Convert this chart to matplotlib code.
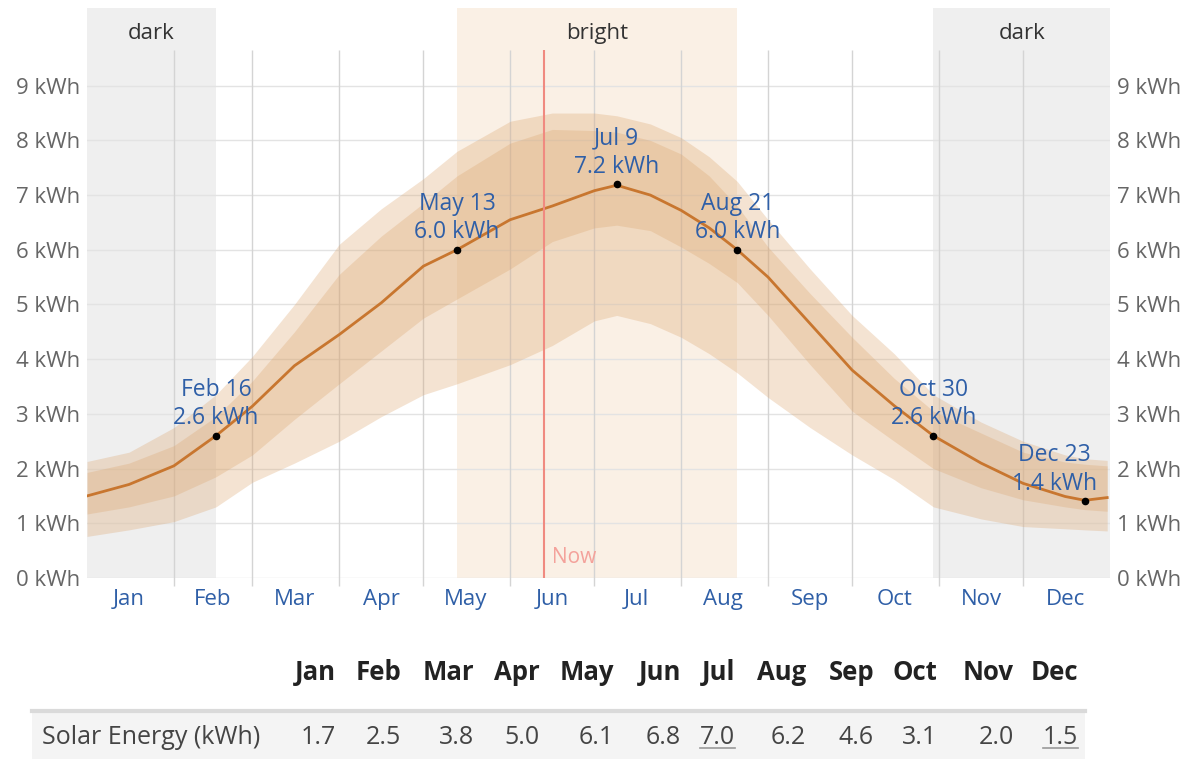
import matplotlib
matplotlib.use("Agg")
import matplotlib.pyplot as plt
from matplotlib.patches import Rectangle
from matplotlib.lines import Line2D

plt.rcParams["font.family"] = ["Open Sans", "DejaVu Sans"]

# daily solar energy (kWh) at these days of the year
days = [0, 15, 31, 46, 59, 74, 90, 105, 120, 132, 151, 166, 181, 189, 201,
        212, 222, 232, 243, 258, 273, 288, 302, 319, 334, 349, 356, 364]
median = [1.50, 1.71, 2.05, 2.60, 3.14, 3.88, 4.45, 5.03, 5.70, 6.00, 6.55,
          6.80, 7.08, 7.18, 7.00, 6.72, 6.40, 6.00, 5.50, 4.65, 3.80, 3.15,
          2.60, 2.10, 1.73, 1.49, 1.42, 1.47]
p90 = [2.13, 2.30, 2.75, 3.35, 4.05, 5.00, 6.10, 6.75, 7.30, 7.80, 8.35,
       8.50, 8.50, 8.45, 8.30, 8.05, 7.70, 7.25, 6.55, 5.65, 4.80, 4.10,
       3.35, 2.85, 2.50, 2.25, 2.18, 2.15]
p75 = [1.93, 2.10, 2.42, 2.95, 3.60, 4.50, 5.55, 6.25, 6.85, 7.35, 7.95,
       8.20, 8.18, 8.15, 8.00, 7.75, 7.35, 6.80, 6.05, 5.20, 4.40, 3.65,
       3.05, 2.65, 2.30, 2.12, 2.08, 2.05]
p25 = [1.17, 1.30, 1.50, 1.85, 2.25, 2.90, 3.55, 4.15, 4.75, 5.10, 5.65,
       6.15, 6.40, 6.45, 6.35, 6.05, 5.75, 5.40, 4.80, 3.90, 3.05, 2.50,
       2.00, 1.65, 1.43, 1.30, 1.25, 1.22]
p10 = [0.76, 0.88, 1.03, 1.30, 1.75, 2.10, 2.50, 2.95, 3.35, 3.55, 3.90,
       4.25, 4.70, 4.80, 4.65, 4.40, 4.10, 3.75, 3.30, 2.75, 2.25, 1.80,
       1.30, 1.08, 0.94, 0.90, 0.88, 0.86]

# highlighted days
ann_days = [46, 132, 189, 232, 302, 356]
ann_dates = ["Feb 16", "May 13", "Jul 9", "Aug 21", "Oct 30", "Dec 23"]
ann_vals = [2.6, 6.0, 7.2, 6.0, 2.6, 1.4]

# seasons
dark_periods = [(0, 46), (302, 365)]
bright_period = (132, 232)
now_day = 163

months = ["Jan", "Feb", "Mar", "Apr", "May", "Jun",
          "Jul", "Aug", "Sep", "Oct", "Nov", "Dec"]
month_starts = [31, 59, 90, 120, 151, 181, 212, 243, 273, 304, 334]
month_mids = [15, 45, 74, 105, 135, 166, 196, 227, 258, 288, 319, 349]
monthly_avg = [1.7, 2.5, 3.8, 5.0, 6.1, 6.8, 7.0, 6.2, 4.6, 3.1, 2.0, 1.5]

W, H = 1198, 759
BLUE = "#2f5fa7"
GREY_TXT = "#666666"

fig = plt.figure(figsize=(W / 100, H / 100), dpi=100)
ax = fig.add_axes([87 / W, 1 - 578 / H, (1110 - 87) / W, (578 - 8) / H])
ax.set_xlim(0, 365)
ax.set_ylim(0, 10.42)
grid_top = 9.65

# background seasons
for a, b in dark_periods:
    ax.axvspan(a, b, color="#efefef", lw=0, zorder=0)
    ax.text((a + b) / 2, 9.96, "dark", ha="center", va="center",
            fontsize=16, color="#333333")
ax.axvspan(*bright_period, color="#faf0e5", lw=0, zorder=0)
ax.text(sum(bright_period) / 2, 9.96, "bright", ha="center", va="center",
        fontsize=16, color="#333333")

# grid
for v in range(10):
    ax.axhline(v, color="#e3e3e3", lw=1, zorder=1)
ax.vlines(month_starts, -0.15, grid_top, color="#d4d4d4", lw=1,
          zorder=1, clip_on=False)

# percentile bands and median line
ax.fill_between(days, p10, p90, color="#dca670", alpha=0.31, lw=0, zorder=2)
ax.fill_between(days, p25, p75, color="#dca670", alpha=0.31, lw=0, zorder=2)
ax.plot(days, median, color="#c8762f", lw=2, zorder=3)

# now
ax.vlines(now_day, 0, grid_top, color="#f08a80", lw=1.5, zorder=3)
ax.text(now_day + 3, 0.38, "Now", color="#f4a29b", fontsize=15,
        ha="left", va="center", zorder=4)

# annotated points, the last label is pulled inside the plot
ax.scatter(ann_days, ann_vals, s=20, color="black", zorder=5)
for i, (d, lab, v) in enumerate(zip(ann_days, ann_dates, ann_vals)):
    dx = -22 if i == len(ann_days) - 1 else 0
    ax.annotate(f"{lab}\n{v:.1f} kWh", (d, v), xytext=(dx, 4),
                textcoords="offset points", ha="center", va="bottom",
                fontsize=16.5, color=BLUE, linespacing=1.25, zorder=6)

ax.set_xticks(month_mids)
ax.set_xticklabels(months, color=BLUE, fontsize=16)
ax.set_yticks(range(10))
ax.set_yticklabels([f"{v} kWh" for v in range(10)], color=GREY_TXT,
                   fontsize=16)
ax.tick_params(axis="x", length=0, pad=8)
ax.tick_params(axis="y", length=0, pad=5, labelright=True)
for s in ax.spines.values():
    s.set_visible(False)

# summary table
col_right = [336, 401, 474, 540, 614, 681, 735, 806, 874, 937, 1014, 1078]
fig.patches.append(Rectangle((32 / W, 0), (1085 - 32) / W, (759 - 711) / H,
                             transform=fig.transFigure, color="#f4f4f4",
                             lw=0, zorder=0))
fig.lines.append(Line2D([32 / W, 1085 / W], [1 - 711 / H, 1 - 711 / H],
                        transform=fig.transFigure, color="#dadada", lw=3))
fig.text(42 / W, 1 - 738 / H, "Solar Energy (kWh)", ha="left", va="center",
         fontsize=18, color="#444444")
val_texts = []
for xr, m, v in zip(col_right, months, monthly_avg):
    fig.text(xr / W, 1 - 673 / H, m, ha="right", va="center", fontsize=18.5,
             fontweight="bold", color="#222222")
    val_texts.append(fig.text(xr / W, 1 - 738 / H, f"{v:.1f}", ha="right",
                              va="center", fontsize=18, color="#444444"))

# underline the highest and lowest month
fig.canvas.draw()
renderer = fig.canvas.get_renderer()
for i in (monthly_avg.index(max(monthly_avg)), monthly_avg.index(min(monthly_avg))):
    bb = val_texts[i].get_window_extent(renderer)
    fig.lines.append(Line2D([bb.x0 / W, bb.x1 / W], [(bb.y0 + 3) / H] * 2,
                            transform=fig.transFigure, color="#999999", lw=1.2))

fig.savefig("out.png", dpi=100)
